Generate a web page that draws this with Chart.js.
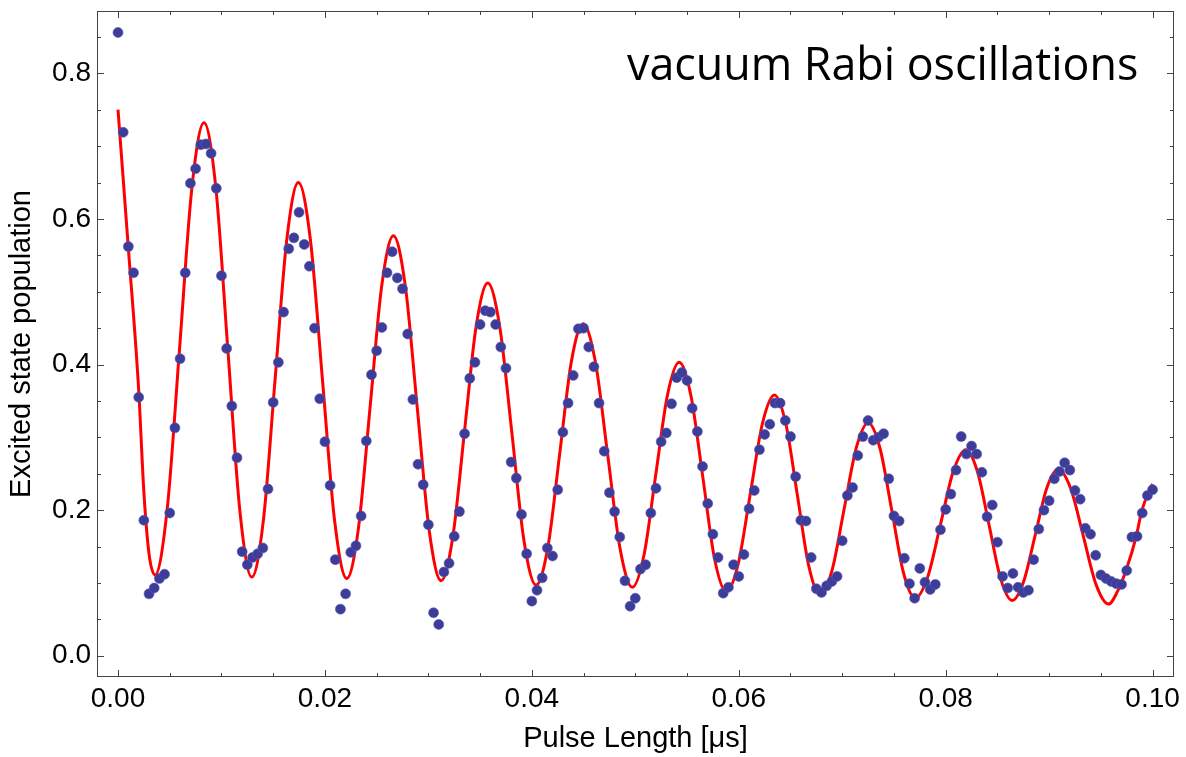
<!DOCTYPE html>
<html>
<head>
<meta charset="utf-8">
<script src="https://cdn.jsdelivr.net/npm/chart.js"></script>
<style>
  html, body { margin: 0; padding: 0; background: #fff; }
  #rabi { display: block; }
</style>
</head>
<body>
<canvas id="rabi" width="1186" height="757"></canvas>
<script>
// pulse lengths of the measured points [us]
const pulseLength = [
  0,0.0005,0.001,0.0015,0.002,0.0025,0.003,0.0035,0.004,0.0045,
  0.005,0.0055,0.006,0.0065,0.007,0.0075,0.008,0.0085,0.009,0.0095,
  0.01,0.0105,0.011,0.0115,0.012,0.0125,0.013,0.0135,0.014,0.0145,
  0.015,0.0155,0.016,0.0165,0.017,0.0175,0.018,0.0185,0.019,0.0195,
  0.02,0.0205,0.021,0.0215,0.022,0.0225,0.023,0.0235,0.024,0.0245,
  0.025,0.0255,0.026,0.0265,0.027,0.0275,0.028,0.0285,0.029,0.0295,
  0.03,0.0305,0.031,0.0315,0.032,0.0325,0.033,0.0335,0.034,0.0345,
  0.035,0.0355,0.036,0.0365,0.037,0.0375,0.038,0.0385,0.039,0.0395,
  0.04,0.0405,0.041,0.0415,0.042,0.0425,0.043,0.0435,0.044,0.0445,
  0.045,0.0455,0.046,0.0465,0.047,0.0475,0.048,0.0485,0.049,0.0495,
  0.05,0.0505,0.051,0.0515,0.052,0.0525,0.053,0.0535,0.054,0.0545,
  0.055,0.0555,0.056,0.0565,0.057,0.0575,0.058,0.0585,0.059,0.0595,
  0.06,0.0605,0.061,0.0615,0.062,0.0625,0.063,0.0635,0.064,0.0645,
  0.065,0.0655,0.066,0.0665,0.067,0.0675,0.068,0.0685,0.069,0.0695,
  0.07,0.0705,0.071,0.0715,0.072,0.0725,0.073,0.0735,0.074,0.0745,
  0.075,0.0755,0.076,0.0765,0.077,0.0775,0.078,0.0785,0.079,0.0795,
  0.08,0.0805,0.081,0.0815,0.082,0.0825,0.083,0.0835,0.084,0.0845,
  0.085,0.0855,0.086,0.0865,0.087,0.0875,0.088,0.0885,0.089,0.0895,
  0.09,0.0905,0.091,0.0915,0.092,0.0925,0.093,0.0935,0.094,0.0945,
  0.095,0.0955,0.096,0.0965,0.097,0.0975,0.098,0.0985,0.099,0.0995,
  0.1
]

// measured excited state population
const population = [
  0.856,0.719,0.562,0.526,0.355,0.186,0.085,0.093,0.106,0.112,
  0.196,0.313,0.408,0.526,0.649,0.669,0.702,0.703,0.690,0.642,
  0.522,0.422,0.343,0.272,0.143,0.125,0.135,0.140,0.148,0.229,
  0.348,0.403,0.472,0.559,0.574,0.609,0.565,0.535,0.450,0.353,
  0.294,0.234,0.132,0.064,0.085,0.142,0.151,0.192,0.295,0.386,
  0.419,0.451,0.526,0.555,0.519,0.504,0.442,0.352,0.263,0.235,
  0.180,0.059,0.043,0.115,0.127,0.164,0.198,0.305,0.381,0.403,
  0.455,0.474,0.472,0.455,0.424,0.395,0.266,0.244,0.194,0.140,
  0.075,0.090,0.107,0.148,0.137,0.228,0.307,0.347,0.385,0.449,
  0.450,0.424,0.397,0.347,0.281,0.224,0.198,0.163,0.103,0.068,
  0.079,0.119,0.125,0.196,0.230,0.294,0.306,0.346,0.382,0.389,
  0.378,0.340,0.308,0.260,0.209,0.167,0.135,0.086,0.094,0.125,
  0.109,0.139,0.202,0.227,0.283,0.304,0.318,0.347,0.347,0.323,
  0.301,0.246,0.186,0.185,0.135,0.092,0.087,0.096,0.102,0.109,
  0.158,0.220,0.231,0.275,0.301,0.323,0.296,0.300,0.305,0.243,
  0.192,0.185,0.134,0.099,0.079,0.120,0.101,0.091,0.098,0.173,
  0.201,0.222,0.255,0.301,0.277,0.288,0.277,0.252,0.191,0.207,
  0.156,0.109,0.093,0.113,0.094,0.087,0.090,0.132,0.174,0.200,
  0.213,0.243,0.253,0.265,0.255,0.227,0.215,0.175,0.167,0.138,
  0.111,0.106,0.102,0.099,0.098,0.117,0.163,0.164,0.196,0.220,
  0.228
]

// red fit curve (peaks, troughs and points between)
const fitTime = [
  0,0.001,0.002,0.0025,0.003,0.00358,
  0.00476,0.00595,0.00713,0.00831,
  0.00947,0.01062,0.01178,0.01293,
  0.01406,0.01518,0.01631,0.01743,
  0.0186,0.01977,0.02094,0.02211,
  0.02324,0.02437,0.02549,0.02662,
  0.02777,0.02893,0.03008,0.03123,
  0.03236,0.03349,0.03461,0.03574,
  0.03691,0.03808,0.03924,0.04041,
  0.04155,0.04269,0.04382,0.04496,
  0.04615,0.04734,0.04853,0.04972,
  0.05085,0.05198,0.05311,0.05424,
  0.05538,0.05652,0.05765,0.05879,
  0.05996,0.06112,0.06229,0.06345,
  0.06456,0.06566,0.06677,0.06787,
  0.06903,0.07019,0.07135,0.07251,
  0.07365,0.07479,0.07592,0.07706,
  0.07828,0.07951,0.08073,0.08195,
  0.08307,0.08419,0.08531,0.08643,
  0.08754,0.08866,0.08977,0.09088,
  0.0921,0.09331,0.09453,0.09574,
  0.0966,0.09745,0.09842,0.0989,0.0997,0.1
]
const fitValue = [
  0.750,0.560,0.365,0.225,0.140,0.111,
  0.202,0.422,0.641,0.732,
  0.641,0.420,0.199,0.108,
  0.187,0.379,0.571,0.650,
  0.571,0.378,0.185,0.106,
  0.175,0.342,0.508,0.577,
  0.508,0.340,0.172,0.103,
  0.163,0.308,0.452,0.512,
  0.451,0.305,0.158,0.097,
  0.149,0.277,0.404,0.456,
  0.403,0.275,0.147,0.094,
  0.139,0.249,0.358,0.403,
  0.357,0.246,0.134,0.088,
  0.127,0.223,0.319,0.358,
  0.318,0.221,0.123,0.083,
  0.118,0.202,0.285,0.320,
  0.285,0.200,0.114,0.079,
  0.109,0.181,0.253,0.283,
  0.253,0.180,0.106,0.076,
  0.102,0.166,0.230,0.256,
  0.229,0.164,0.098,0.071,
  0.088,0.118,0.164,0.196,0.228,0.236
]

const xTickValues = [0, 0.02, 0.04, 0.06, 0.08, 0.1]
const yTickValues = [0, 0.2, 0.4, 0.6, 0.8]
const xMinorTicks = [0.005,0.01,0.015,0.025,0.03,0.035,0.045,0.05,0.055,0.065,0.07,0.075,0.085,0.09,0.095]
const yMinorTicks = [0.05,0.1,0.15,0.25,0.3,0.35,0.45,0.5,0.55,0.65,0.7,0.75,0.85]

const titleText = "vacuum Rabi oscillations"
const frameColor = "#444"
const labelFont = {family: 'Liberation Sans, Arial', size: 28}
const axisTitleFont = {family: 'Liberation Sans, Arial', size: 29}

// Mathematica style frame: box with inward ticks on all four sides + inset title
const frameTicks = {
  id: 'frameTicks',
  afterDatasetsDraw(chart) {
    const {ctx, chartArea: a, scales: {x, y}} = chart
    ctx.save()
    ctx.strokeStyle = frameColor
    ctx.lineWidth = 1
    ctx.strokeRect(a.left + 0.5, a.top + 0.5, a.right - a.left - 1, a.bottom - a.top - 1)
    ctx.beginPath()
    const xt = (v, len) => {
      let px = Math.round(x.getPixelForValue(v)) + 0.5
      ctx.moveTo(px, a.bottom); ctx.lineTo(px, a.bottom - len)
      ctx.moveTo(px, a.top); ctx.lineTo(px, a.top + len)
    }
    const yt = (v, len) => {
      let py = Math.round(y.getPixelForValue(v)) + 0.5
      ctx.moveTo(a.left, py); ctx.lineTo(a.left + len, py)
      ctx.moveTo(a.right, py); ctx.lineTo(a.right - len, py)
    }
    xMinorTicks.forEach(v => xt(v, 4))
    xTickValues.forEach(v => xt(v, 7))
    yMinorTicks.forEach(v => yt(v, 4))
    yTickValues.forEach(v => yt(v, 7))
    ctx.stroke()

    // title inside the plot, top right
    ctx.font = '40px "Open Sans"'
    let w = ctx.measureText(titleText).width
    let size = 40 * 511 / w
    ctx.font = size.toFixed(1) + 'px "Open Sans"'
    ctx.fillStyle = '#000'
    ctx.textAlign = 'left'
    ctx.textBaseline = 'alphabetic'
    ctx.fillText(titleText, 627, 80)
    ctx.restore()
  }
}

let points = pulseLength.map((t, i) => ({x: t, y: population[i]}))
let fit = fitTime.map((t, i) => ({x: t, y: fitValue[i]}))

let ctxEl = document.getElementById('rabi').getContext('2d')
let chart = new Chart(ctxEl, {
  type: 'scatter',
  data: {
    datasets: [
      {
        label: 'data',
        data: points,
        backgroundColor: '#3d3d99',
        borderColor: 'rgba(90,90,180,0.6)',
        borderWidth: 1,
        pointRadius: 5,
        pointHoverRadius: 5,
      },
      {
        label: 'fit',
        data: fit,
        showLine: true,
        borderColor: '#ff0000',
        borderWidth: 3,
        pointRadius: 0,
        cubicInterpolationMode: 'monotone',
        fill: false,
      },
    ],
  },
  options: {
    responsive: false,
    animation: false,
    events: [],
    layout: {padding: {top: 11, right: 12, left: 0, bottom: 0}},
    plugins: {
      legend: {display: false},
      tooltip: {enabled: false},
    },
    scales: {
      x: {
        type: 'linear',
        min: -0.00203,
        max: 0.10207,
        grid: {display: false, drawTicks: false},
        border: {display: false},
        afterBuildTicks: s => { s.ticks = xTickValues.map(v => ({value: v})) },
        afterFit: s => { s.height = 80; s.paddingLeft = 0; s.paddingRight = 0 },
        ticks: {
          color: '#000',
          padding: 5,
          maxRotation: 0,
          font: labelFont,
          callback: v => v.toFixed(2),
        },
        title: {
          display: true,
          text: 'Pulse Length [\u03bcs]',
          color: '#000',
          font: axisTitleFont,
          padding: {top: 0, bottom: 1},
        },
      },
      y: {
        type: 'linear',
        min: -0.0292,
        max: 0.8856,
        grid: {display: false, drawTicks: false},
        border: {display: false},
        afterBuildTicks: s => { s.ticks = yTickValues.map(v => ({value: v})) },
        afterFit: s => { s.width = 97; s.paddingTop = 0; s.paddingBottom = 0 },
        ticks: {
          color: '#000',
          padding: 6,
          font: labelFont,
          callback: v => v.toFixed(1),
        },
        title: {
          display: true,
          text: 'Excited state population',
          color: '#000',
          font: axisTitleFont,
          padding: {top: 5, bottom: 0},
        },
      },
    },
  },
  plugins: [frameTicks],
})
</script>
</body>
</html>
